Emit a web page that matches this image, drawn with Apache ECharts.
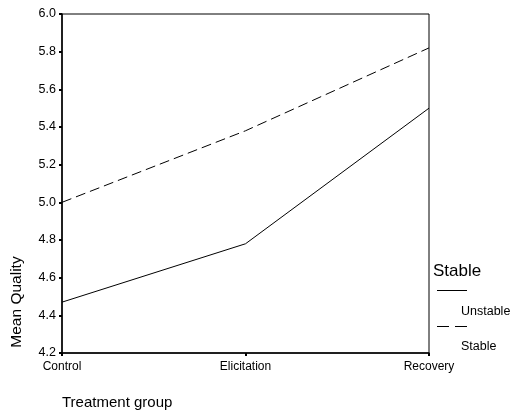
<!DOCTYPE html>
<html><head><meta charset="utf-8">
<script src="https://cdn.jsdelivr.net/npm/echarts@6/dist/echarts.min.js"></script>
<style>html,body{margin:0;padding:0;background:#fff}#c{width:512px;height:417px}</style>
</head><body><div id="c"></div>
<script>
const categories = ["Control", "Elicitation", "Recovery"];
const unstableValues = [4.47, 4.78, 5.50];
const stableValues = [5.00, 5.38, 5.82];
const yMin = 4.2, yMax = 6.0, yStep = 0.2;

const chart = echarts.init(document.getElementById('c'), null, {renderer: 'canvas'});
const font = 'Arial, "Liberation Sans", sans-serif';
chart.setOption({
  animation: false,
  backgroundColor: '#fff',
  grid: {left: 62, right: 83, top: 14, bottom: 64, show: true, borderColor: '#000', borderWidth: 1, backgroundColor: 'transparent'},
  xAxis: {
    type: 'category', data: categories, boundaryGap: false,
    axisLine: {lineStyle: {color: '#000', width: 1.5}},
    axisTick: {show: true, length: 3, alignWithLabel: true, lineStyle: {color: '#000', width: 2}},
    axisLabel: {color: '#000', fontFamily: font, fontSize: 12, margin: 8},
    splitLine: {show: false}
  },
  yAxis: {
    type: 'value', min: yMin, max: yMax, interval: yStep,
    axisLine: {show: true, lineStyle: {color: '#000', width: 1.5}},
    axisTick: {show: true, length: 3, lineStyle: {color: '#000', width: 2}},
    axisLabel: {color: '#000', fontFamily: font, fontSize: 12.5, margin: 6, formatter: v => v.toFixed(1)},
    splitLine: {show: false}
  },
  series: [
    {name: 'Unstable', type: 'line', data: unstableValues, showSymbol: false, lineStyle: {color: '#000', width: 1}},
    {name: 'Stable', type: 'line', data: stableValues, showSymbol: false, lineStyle: {color: '#000', width: 1, type: [10, 5]}}
  ],
  graphic: [
    {type: 'text', x: 17, y: 302, rotation: Math.PI / 2, style: {text: 'Mean Quality', fill: '#000', font: '15.5px ' + font, align: 'center', verticalAlign: 'middle'}},
    {type: 'text', x: 62, y: 395, style: {text: 'Treatment group', fill: '#000', font: '15px ' + font}},
    {type: 'text', x: 433, y: 263, style: {text: 'Stable', fill: '#000', font: '17px ' + font}},
    {type: 'line', shape: {x1: 437, y1: 290.5, x2: 467, y2: 290.5}, style: {stroke: '#000', lineWidth: 1}},
    {type: 'text', x: 461, y: 305, style: {text: 'Unstable', fill: '#000', font: '12.5px ' + font}},
    {type: 'line', shape: {x1: 437, y1: 326.5, x2: 467, y2: 326.5}, style: {stroke: '#000', lineWidth: 1, lineDash: [12, 6]}},
    {type: 'text', x: 461, y: 340, style: {text: 'Stable', fill: '#000', font: '12.5px ' + font}}
  ]
});
</script></body></html>
